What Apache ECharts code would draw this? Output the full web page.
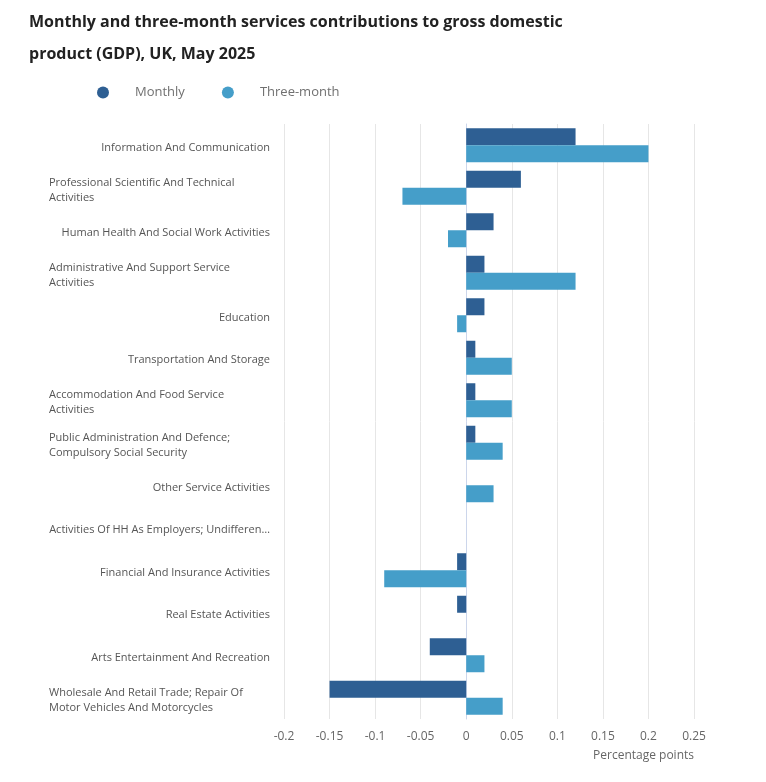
<!DOCTYPE html>
<html>
<head>
    <meta charset="utf-8">
    <title>Services contributions to GDP</title>
    <script src="https://cdn.jsdelivr.net/npm/echarts@6/dist/echarts.min.js"></script>
    <style>
        html, body { margin: 0; padding: 0; background: #fff; }
    </style>
</head>
<body>
    <div id="main" style="width: 766px;height:782px;"></div>
    <script type="text/javascript">
        // industry labels, top to bottom ('\n' = wrapped label)
        var categories = [
            'Information And Communication',
            'Professional Scientific And Technical\nActivities',
            'Human Health And Social Work Activities',
            'Administrative And Support Service\nActivities',
            'Education',
            'Transportation And Storage',
            'Accommodation And Food Service\nActivities',
            'Public Administration And Defence;\nCompulsory Social Security',
            'Other Service Activities',
            'Activities Of HH As Employers; Undifferentiated Goods-And Services-Producing Activities Of HH For Own Use',
            'Financial And Insurance Activities',
            'Real Estate Activities',
            'Arts Entertainment And Recreation',
            'Wholesale And Retail Trade; Repair Of\nMotor Vehicles And Motorcycles'
        ];

        // percentage points
        var monthly = [0.12, 0.06, 0.03, 0.02, 0.02, 0.01, 0.01, 0.01, 0, 0, -0.01, -0.01, -0.04, -0.15];
        var threeMonth = [0.20, -0.07, -0.02, 0.12, -0.01, 0.05, 0.05, 0.04, 0.03, 0, -0.09, 0, 0.02, 0.04];

        var xTicks = ['-0.2', '-0.15', '-0.1', '-0.05', '0', '0.05', '0.1', '0.15', '0.2', '0.25'];

        var font = '"Open Sans", "Noto Sans", sans-serif';
        var myChart = echarts.init(document.getElementById('main'));

        var option = {
            textStyle: { fontFamily: font },
            title: {
                text: 'Monthly and three-month services contributions to gross domestic\nproduct (GDP), UK, May 2025',
                left: 24,
                top: 1,
                textStyle: {
                    fontFamily: font,
                    fontSize: 16,
                    fontWeight: 'bold',
                    color: '#222222',
                    lineHeight: 32
                }
            },
            legend: {
                left: 92,
                top: 81,
                icon: 'circle',
                itemWidth: 12,
                itemHeight: 12,
                itemGap: 37,
                textStyle: {
                    fontFamily: font,
                    fontSize: 13,
                    color: '#707070',
                    padding: [0, 0, 0, 21]
                },
                data: ['Monthly', 'Three-month']
            },
            grid: {
                left: 284,
                right: 72,
                top: 124,
                bottom: 63
            },
            xAxis: {
                type: 'value',
                min: -0.2,
                max: 0.25,
                interval: 0.05,
                name: 'Percentage points',
                nameLocation: 'end',
                nameGap: 0,
                nameTextStyle: {
                    fontFamily: font,
                    fontSize: 12,
                    color: '#666666',
                    align: 'right',
                    verticalAlign: 'top',
                    padding: [31, 0, 0, 0]
                },
                axisLine: { show: false },
                axisTick: { show: false },
                axisLabel: {
                    fontFamily: font,
                    fontSize: 12,
                    color: '#666666',
                    margin: 12,
                    formatter: function (v) {
                        var i = Math.round((v + 0.2) / 0.05);
                        return xTicks[i];
                    }
                },
                splitLine: {
                    lineStyle: { color: '#e6e6e6', width: 1 }
                }
            },
            yAxis: {
                type: 'category',
                inverse: true,
                data: categories,
                axisLine: {
                    lineStyle: { color: '#ccd6eb', width: 1 }
                },
                axisTick: {
                    length: 8,
                    lineStyle: { color: '#ccd6eb' }
                },
                axisLabel: {
                    fontFamily: font,
                    fontSize: 11,
                    color: '#555555',
                    margin: 14,
                    lineHeight: 15,
                    width: 223,
                    padding: [5, 0, 0, 0],
                    overflow: 'truncate',
                    ellipsis: '…',
                    formatter: function (name) {
                        if (name.indexOf('\n') >= 0) {
                            return '{l|' + name + '}';
                        }
                        return name;
                    },
                    rich: {
                        l: {
                            align: 'left',
                            padding: [0, 0, 0, 2],
                            fontFamily: font,
                            fontSize: 11,
                            color: '#555555',
                            lineHeight: 15
                        }
                    }
                }
            },
            series: [
                {
                    name: 'Monthly',
                    type: 'bar',
                    data: monthly,
                    barGap: '0%',
                    barCategoryGap: '20%',
                    itemStyle: { color: '#2e5f93' }
                },
                {
                    name: 'Three-month',
                    type: 'bar',
                    data: threeMonth,
                    barGap: '0%',
                    barCategoryGap: '20%',
                    itemStyle: { color: '#459ec9' }
                }
            ]
        };

        myChart.setOption(option);
    </script>
</body>
</html>
